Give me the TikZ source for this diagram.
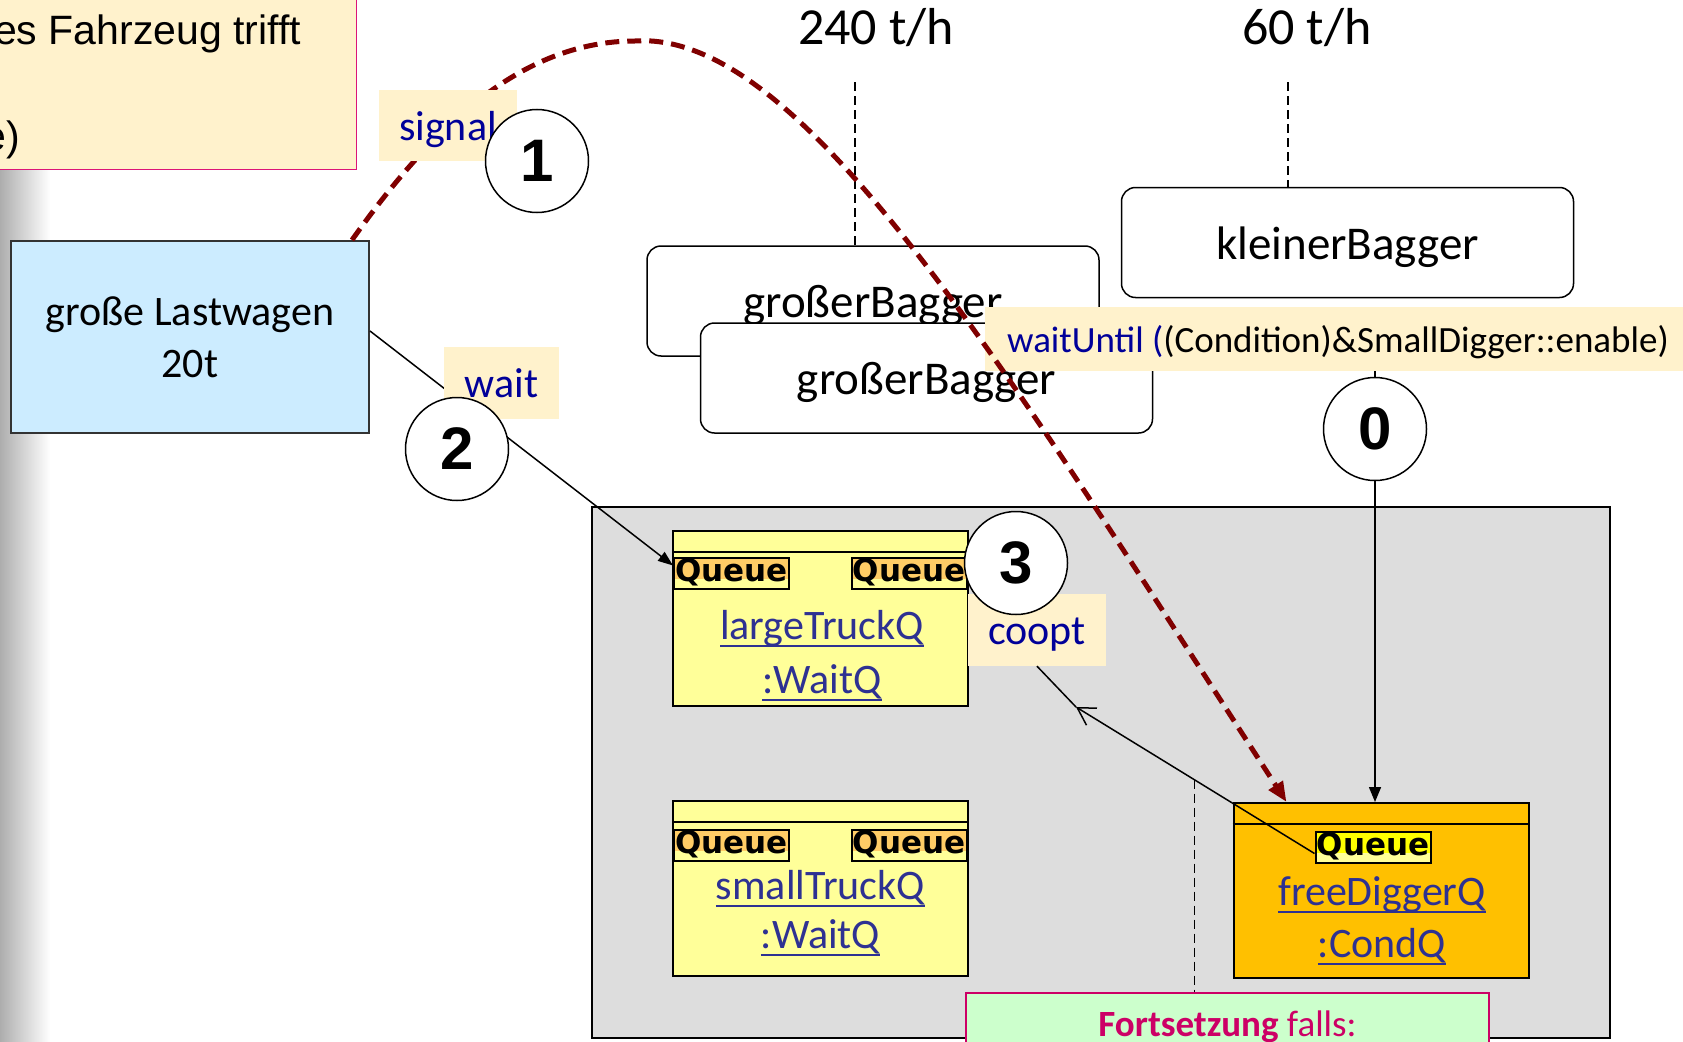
\documentclass[tikz,border=0pt]{standalone}
\usepackage{fontspec}
\setmainfont{Carlito}
\newfontfamily\arialfont{Liberation Sans}
\newfontfamily\tagfont{DejaVu Sans}
\usetikzlibrary{arrows.meta,positioning,calc}

\definecolor{notecream}{RGB}{255,242,204}
\definecolor{notepink}{RGB}{220,20,120}
\definecolor{truckblue}{RGB}{204,236,255}
\definecolor{qyellow}{RGB}{255,255,153}
\definecolor{qorange}{RGB}{255,192,0}
\definecolor{qhead}{RGB}{255,204,102}
\definecolor{qbright}{RGB}{255,255,0}
\definecolor{panelgray}{RGB}{221,221,221}
\definecolor{contgreen}{RGB}{204,255,204}
\definecolor{contpink}{RGB}{204,0,102}
\definecolor{sigred}{RGB}{128,0,0}
\definecolor{cuenavy}{RGB}{0,0,153}
\definecolor{objblue}{RGB}{46,49,146}

\newcommand\fsz[1]{\fontsize{#1}{#1}\selectfont}
\newcommand\ulname[1]{\setbox0\hbox{#1}\rlap{\rule[-8pt]{\wd0}{2pt}}\box0}

\tikzset{
	conn/.style={draw=black, line width=1.5pt},
	tdash/.style={draw=black, line width=1.5pt, dash pattern=on 9pt off 5pt},
	cue/.style={fill=notecream, text=cuenavy, inner sep=0pt, text height=29pt, text depth=0pt, font=\fsz{42}},
	numcircle/.style={circle, draw, line width=1.5pt, fill=white, minimum size=103pt, inner sep=0pt, font=\arialfont\bfseries\fsz{60}},
}

\begin{document}
\begin{tikzpicture}[x=1pt, y=-1pt,
		bagger/.style={draw, line width=1.5pt, rounded corners=14pt, fill=white, minimum width=452pt, minimum height=110pt, inner sep=0pt, text height=33pt, text depth=0pt, font=\fsz{47}},
		objbox/.style={draw, line width=2pt, minimum width=295pt, minimum height=175pt, inner sep=0pt},
		objname/.style={text=objblue, font=\fsz{42}, inner sep=0pt, anchor=base},
		tagbox/.style={draw, line width=2pt, fill=qyellow, minimum width=115pt, minimum height=31pt, inner sep=0pt, text height=22pt, text depth=6pt, font=\tagfont\bfseries\fsz{31},
			path picture={\fill[#1] (path picture bounding box.north west) rectangle ([yshift=-21pt]path picture bounding box.north east);}},
		sigline/.style={draw=sigred, line width=5pt, dash pattern=on 14pt off 8pt, -{Triangle[length=20pt,width=16pt]}}]
\useasboundingbox (0,0) rectangle (1683,1041);
\shade[left color=black!32, right color=white] (0,170) rectangle (50,1041);

\node[draw=notepink, fill=notecream, line width=1.5pt, minimum width=400pt, minimum height=200pt, anchor=south east] (note) at (357,170) {};
\node[font=\arialfont\fsz{41}, anchor=base west, inner sep=0pt] (note-l1) at (-6,45) {es Fahrzeug trifft};
\node[font=\arialfont\fsz{41}, anchor=base east, inner sep=0pt] (note-l2) at (20,150) {e)};

\node[draw, line width=2pt, fill=panelgray, minimum width=1018pt, minimum height=531pt] (panel) at (1101,772.5) {};
\node[draw=contpink, fill=contgreen, line width=2pt, minimum width=523pt, anchor=north, inner ysep=17pt, text height=26pt, text depth=9pt, text=contpink, font=\fsz{37}] (fz) at (1227.5,992) {\textbf{Fortsetzung} falls:};

\node[font=\fsz{52}, anchor=base, inner sep=0pt] (t240) at (876,45) {240 t/h};
\node[font=\fsz{52}, anchor=base, inner sep=0pt] (t60) at (1307,45) {60 t/h};
\coordinate (d240) at (855,82);
\coordinate (d60) at (1288,82);

\node[bagger] (gb1) at (873,301) {großerBagger};
\node[bagger] (gb2) at (926.5,378) {großerBagger};
\node[bagger] (kb) at (1347.5,242.5) {kleinerBagger};
\draw[tdash] (d240) -- (d240 |- gb1.north);
\draw[tdash] (d60) -- (d60 |- kb.north);

\node[draw=black!80, line width=2pt, fill=truckblue, minimum width=358pt, minimum height=192pt, align=center, font=\fontsize{42}{52}\selectfont] (lw) at (190,337) {große Lastwagen\\20t};

\node[objbox, fill=qyellow] (ltq) at (820.5,618) {};
\node[objbox, fill=qyellow] (stq) at (820.5,888.5) {};
\node[objbox, fill=qorange] (fdq) at (1381,890.5) {};
\foreach \q in {ltq,stq,fdq}
	\draw[line width=2pt] ([yshift=-22pt]\q.north west) -- ([yshift=-22pt]\q.north east);

\node[tagbox=qhead] (lq1) at (731.5,573.5) {Queue};
\node[tagbox=qhead] (lq2) at (909,573.5) {Queue};
\node[tagbox=qhead] (sq1) at (731.5,845) {Queue};
\node[tagbox=qhead] (sq2) at (909,845) {Queue};
\node[tagbox=qbright] (fq) at (1373,847) {Queue};

\node[objname] (ltq-n) at (822,639) {\ulname{largeTruckQ}};
\node[objname] (ltq-t) at (822,693) {\ulname{:WaitQ}};
\node[objname] (stq-n) at (820.5,899) {\ulname{smallTruckQ}};
\node[objname] (stq-t) at (820.5,948) {\ulname{:WaitQ}};
\node[objname] (fdq-n) at (1382,905) {\ulname{freeDiggerQ}};
\node[objname] (fdq-t) at (1382,957) {\ulname{:CondQ}};

\draw[conn, -{Triangle[length=15pt,width=11pt]}] ([yshift=6pt]lw.east) -- ([yshift=8pt]lq1.west);

\node[cue, font=\fsz{37}, text height=26pt, text=black, anchor=west, inner xsep=22pt, minimum height=64pt] (wu) at (985,339) {\textcolor{cuenavy}{waitUntil (}(Condition)\&SmallDigger::enable)};
\node[cue, minimum width=115pt, minimum height=72pt] (wt) at (501.5,383) {wait};
\node[cue, minimum width=138pt, minimum height=72pt] (cp) at (1037,630) {coopt};

\node[numcircle] (c2) at (457,449) {2};
\node[numcircle] (c3) at (1016,563) {3};
\node[numcircle] (c0) at (1375,429) {0};

\coordinate (cbend) at (1076,707);
\coordinate (cq) at ([yshift=10pt]fq.south west);
\coordinate (cdash) at ($(cq)!0.504!(cbend)$);
\draw[conn] (cp.south) -- (cbend);
\draw[conn, -{Straight Barb[length=17pt,width=20pt]}] (cq) -- (cbend);
\draw[tdash] (cdash) -- (cdash |- fz.north);

\draw[conn] (c0) -- (c0 |- wu.south);
\draw[conn, -{Triangle[length=15pt,width=12pt]}] (c0) -- (c0 |- fdq.north);

\draw[sigline] ([xshift=-18pt]lw.north east) .. controls (430,130) and (520,41) .. (635,41) .. controls (800,30) and (1000,360) .. ([xshift=54pt]fdq.north west);

\node[cue, minimum width=138pt, minimum height=71pt] (sig) at (448,125.5) {signal};
\node[numcircle] (c1) at (537,161) {1};
\end{tikzpicture}
\end{document}
